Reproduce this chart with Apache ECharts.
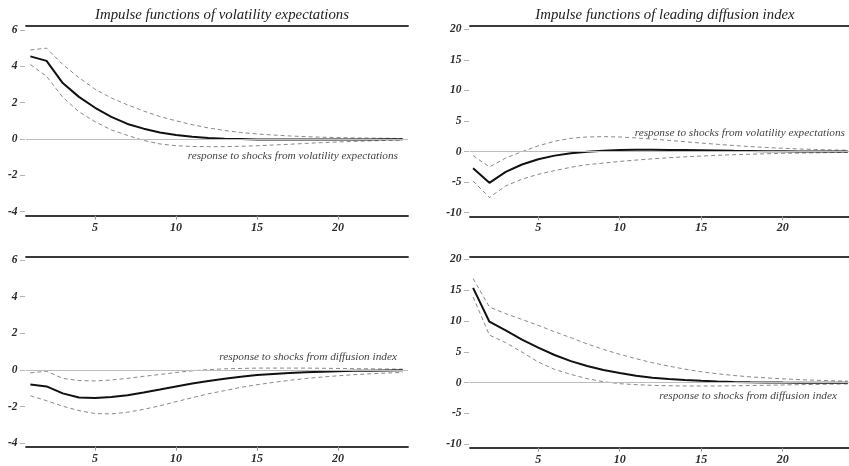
<!DOCTYPE html>
<html><head><meta charset="utf-8">
<script src="https://cdn.jsdelivr.net/npm/echarts@6/dist/echarts.min.js"></script>
<style>html,body{margin:0;padding:0;background:#fff}#c{width:849px;height:466px}</style>
</head><body><div id="c"></div>
<script>
// ---------- data ----------
const periods = [1,2,3,4,5,6,7,8,9,10,11,12,13,14,15,16,17,18,19,20,21,22,23,24];
const xTicks = [5,10,15,20];
const volTicks = [-4,-2,0,2,4,6];
const diffTicks = [-10,-5,0,5,10,15,20];

const titles = ['Impulse functions of volatility expectations','Impulse functions of leading diffusion index'];
const notes = ['response to shocks from volatility expectations','response to shocks from volatility expectations',
               'response to shocks from diffusion index','response to shocks from diffusion index'];

// volatility expectations <- volatility shock
const volOwnMid = [4.55,4.3,3.08,2.32,1.72,1.22,0.83,0.57,0.36,0.22,0.12,0.06,0.02,0.0,-0.02,-0.03,-0.03,-0.03,-0.03,-0.02,-0.02,-0.02,-0.01,-0.01];
const volOwnUp  = [4.9,5.0,4.1,3.38,2.74,2.26,1.88,1.54,1.24,1.0,0.79,0.61,0.47,0.36,0.28,0.22,0.17,0.13,0.1,0.08,0.06,0.05,0.04,0.03];
const volOwnLo  = [4.1,3.45,2.3,1.5,0.95,0.5,0.2,-0.08,-0.27,-0.37,-0.41,-0.42,-0.42,-0.4,-0.37,-0.33,-0.29,-0.24,-0.2,-0.16,-0.13,-0.1,-0.08,-0.06];
// diffusion index <- volatility shock
const diffVolMid = [-2.7,-5.1,-3.3,-2.1,-1.25,-0.65,-0.27,0.0,0.16,0.26,0.3,0.3,0.28,0.25,0.22,0.18,0.14,0.11,0.08,0.06,0.04,0.03,0.02,0.01];
const diffVolUp  = [-0.65,-2.5,-1.05,0.0,0.95,1.7,2.18,2.4,2.45,2.4,2.24,2.05,1.85,1.62,1.4,1.2,1.0,0.83,0.68,0.55,0.44,0.35,0.28,0.22];
const diffVolLo  = [-4.8,-7.5,-5.6,-4.5,-3.7,-3.1,-2.56,-2.13,-1.87,-1.6,-1.38,-1.18,-1.0,-0.85,-0.72,-0.6,-0.5,-0.42,-0.35,-0.28,-0.23,-0.19,-0.15,-0.12];
// volatility expectations <- diffusion index shock
const volDiffMid = [-0.8,-0.9,-1.28,-1.5,-1.53,-1.48,-1.38,-1.23,-1.07,-0.9,-0.74,-0.6,-0.48,-0.37,-0.28,-0.22,-0.17,-0.13,-0.1,-0.07,-0.05,-0.04,-0.03,-0.02];
const volDiffUp  = [-0.16,-0.07,-0.46,-0.58,-0.6,-0.55,-0.46,-0.35,-0.25,-0.14,-0.05,0.02,0.06,0.08,0.1,0.1,0.1,0.1,0.09,0.08,0.07,0.06,0.05,0.04];
const volDiffLo  = [-1.41,-1.68,-1.98,-2.22,-2.38,-2.4,-2.31,-2.15,-1.96,-1.73,-1.52,-1.3,-1.13,-0.95,-0.81,-0.68,-0.57,-0.47,-0.39,-0.32,-0.26,-0.21,-0.17,-0.14];
// diffusion index <- diffusion index shock
const diffOwnMid = [15.4,9.9,8.5,7.0,5.7,4.5,3.5,2.7,2.05,1.57,1.14,0.81,0.59,0.43,0.3,0.2,0.13,0.08,0.05,0.02,0.0,-0.01,-0.02,-0.02];
const diffOwnUp  = [16.9,12.3,11.2,10.27,9.3,8.27,7.3,6.3,5.4,4.6,3.9,3.24,2.7,2.2,1.78,1.45,1.17,0.95,0.78,0.63,0.5,0.4,0.32,0.25];
const diffOwnLo  = [13.9,7.73,6.5,4.97,3.35,2.16,1.35,0.65,0.16,-0.16,-0.32,-0.43,-0.5,-0.53,-0.54,-0.53,-0.5,-0.46,-0.42,-0.37,-0.32,-0.28,-0.24,-0.2];

// ---------- layout ----------
const FONT = '"Liberation Serif", "DejaVu Serif", serif';
const panels = [
  {grid:{left:26,top:26,width:382,height:189.7}, yMin:-4.22, yMax:6.22, yTicks:volTicks, xMin:0.73, xMax:24.33,
   mid:volOwnMid, up:volOwnUp, lo:volOwnLo, note:notes[0], noteX:398, noteY:156},
  {grid:{left:470,top:26,width:379,height:190.3}, yMin:-10.57, yMax:20.54, yTicks:diffTicks, xMin:0.81, xMax:24.07,
   mid:diffVolMid, up:diffVolUp, lo:diffVolLo, note:notes[1], noteX:845, noteY:133},
  {grid:{left:26,top:256.7,width:382,height:190}, yMin:-4.19, yMax:6.18, yTicks:volTicks, xMin:0.73, xMax:24.33,
   mid:volDiffMid, up:volDiffUp, lo:volDiffLo, note:notes[2], noteX:397, noteY:357},
  {grid:{left:470,top:256.7,width:379,height:191}, yMin:-10.55, yMax:20.45, yTicks:diffTicks, xMin:0.81, xMax:24.07,
   mid:diffOwnMid, up:diffOwnUp, lo:diffOwnLo, note:notes[3], noteX:837, noteY:396}
];

const grids = [], xAxes = [], yAxes = [], series = [], graphics = [];
const frameLine = {show:true, onZero:false, lineStyle:{color:'#3a3a3a', width:1.8}};
panels.forEach((p, i) => {
  grids.push(p.grid);
  xAxes.push({
    type:'value', gridIndex:i, min:p.xMin, max:p.xMax, position:'bottom',
    axisLine:frameLine,
    axisTick:{show:true, length:4, lineStyle:{color:'#999', width:1}, customValues:xTicks},
    axisLabel:{show:true, customValues:xTicks, margin:6, fontFamily:FONT, fontSize:12, fontStyle:'italic', fontWeight:'bold', color:'#2a2a2a'},
    splitLine:{show:false}
  });
  xAxes.push({
    type:'value', gridIndex:i, min:p.xMin, max:p.xMax, position:'top',
    axisLine:frameLine, axisTick:{show:false}, axisLabel:{show:false}, splitLine:{show:false}
  });
  yAxes.push({
    type:'value', gridIndex:i, min:p.yMin, max:p.yMax,
    axisLine:{show:false}, axisTick:{show:false}, splitLine:{show:false},
    axisLabel:{show:true, customValues:p.yTicks, margin:1,
      formatter: v => '{n|' + v + '}{d| \u2013}',
      rich:{n:{fontFamily:FONT, fontSize:11.5, fontStyle:'italic', fontWeight:'bold', color:'#2a2a2a'},
            d:{fontFamily:FONT, fontSize:10, color:'#777'}}}
  });
  const xi = i*2;
  const band = (arr) => ({
    type:'line', xAxisIndex:xi, yAxisIndex:i, data:periods.map((t,k)=>[t, arr[k]]),
    showSymbol:false, symbol:'none', silent:true, animation:false,
    lineStyle:{color:'#7a7a7a', width:0.9, type:[4,3]}
  });
  const up = band(p.up);
  up.markLine = {silent:true, symbol:'none', animation:false, label:{show:false},
    lineStyle:{color:'#bdbdbd', width:1, type:'solid'}, data:[{yAxis:0}]};
  series.push(up, band(p.lo));
  series.push({
    type:'line', xAxisIndex:xi, yAxisIndex:i, data:periods.map((t,k)=>[t, p.mid[k]]),
    showSymbol:false, symbol:'none', silent:true, animation:false,
    lineStyle:{color:'#111', width:2}
  });
  graphics.push({type:'text', x:p.noteX, y:p.noteY, silent:true,
    style:{text:p.note, font:'italic 11.3px ' + FONT, fill:'#444', textAlign:'right', textVerticalAlign:'middle'}});
});

const chart = echarts.init(document.getElementById('c'));
chart.setOption({
  animation:false,
  backgroundColor:'#fff',
  title:[
    {text:titles[0], left:217, top:3, textAlign:'center', textStyle:{fontFamily:FONT, fontSize:14.8, fontStyle:'italic', fontWeight:'normal', color:'#222'}},
    {text:titles[1], left:660, top:3, textAlign:'center', textStyle:{fontFamily:FONT, fontSize:14.8, fontStyle:'italic', fontWeight:'normal', color:'#222'}}
  ],
  grid:grids, xAxis:xAxes, yAxis:yAxes, series:series, graphic:graphics
});
</script>
</body></html>
